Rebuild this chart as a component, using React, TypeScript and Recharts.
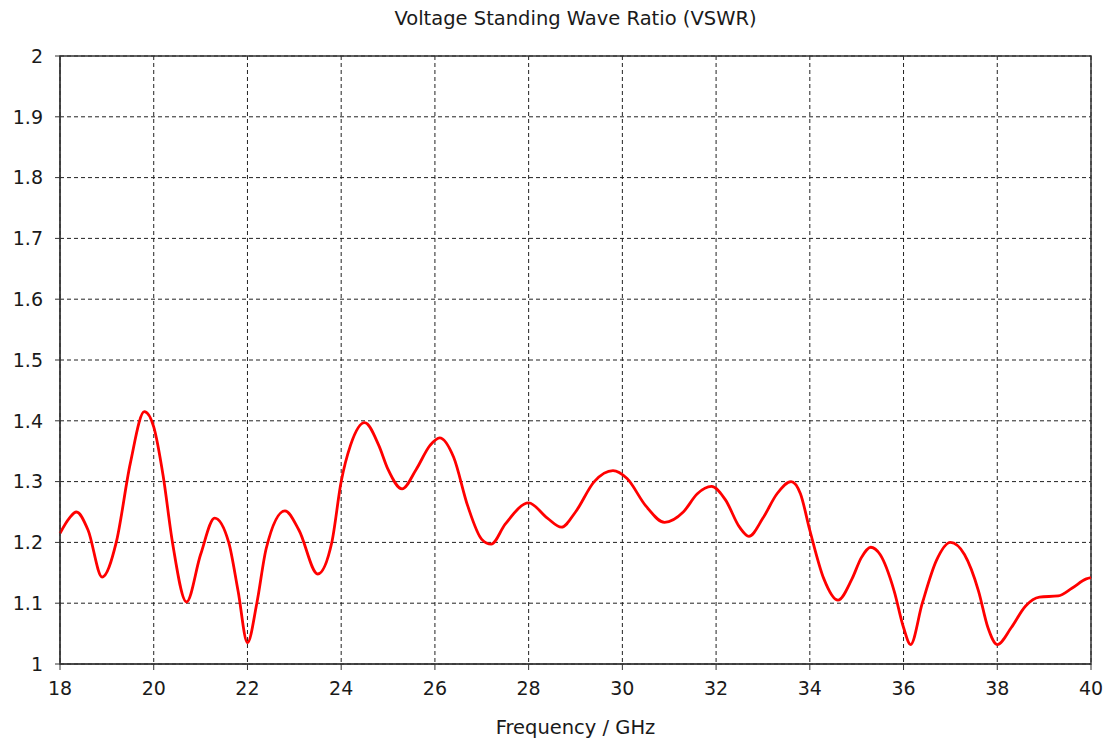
import React from 'react';
import { CartesianGrid, Line, LineChart, ReferenceArea, XAxis, YAxis } from 'recharts';

const freqGHz = [
  18.0, 18.2, 18.35, 18.6, 18.9, 19.2, 19.5, 19.8, 20.0, 20.2, 20.4, 20.7, 21.0, 21.3, 21.6, 21.8, 22.0,
  22.2, 22.4, 22.8, 23.1, 23.5, 23.8, 24.0, 24.2, 24.5, 24.8, 25.0, 25.3, 25.6, 25.9, 26.1, 26.4, 26.7,
  27.0, 27.2, 27.5, 28.0, 28.4, 28.7, 29.0, 29.4, 29.8, 30.1, 30.5, 30.9, 31.3, 31.6, 31.9, 32.2, 32.5,
  32.7, 33.0, 33.3, 33.6, 33.8, 34.0, 34.3, 34.6, 34.9, 35.1, 35.3, 35.5, 35.8, 36.0, 36.15, 36.4, 36.7,
  37.0, 37.3, 37.6, 37.8, 38.0, 38.3, 38.6, 38.9, 39.3, 39.6, 39.9, 40.0,
];

const vswr = [
  1.215, 1.24, 1.25, 1.22, 1.143, 1.2, 1.33, 1.415, 1.39, 1.31, 1.2, 1.102, 1.18, 1.24, 1.2, 1.12, 1.035,
  1.1, 1.19, 1.252, 1.22, 1.148, 1.2, 1.3, 1.36, 1.397, 1.36, 1.32, 1.288, 1.32, 1.36, 1.372, 1.34, 1.26,
  1.205, 1.197, 1.23, 1.265, 1.24, 1.225, 1.25, 1.3, 1.318, 1.305, 1.26, 1.233, 1.25, 1.28, 1.292, 1.27, 1.225,
  1.21, 1.24, 1.28, 1.3, 1.28, 1.22, 1.14, 1.105, 1.14, 1.175, 1.192, 1.18, 1.12, 1.06, 1.032, 1.1, 1.17,
  1.2, 1.18, 1.12, 1.06, 1.032, 1.06, 1.095, 1.11, 1.112, 1.125, 1.14, 1.142,
];

const xTicks = [18, 20, 22, 24, 26, 28, 30, 32, 34, 36, 38, 40];
const yTicks = [1, 1.1, 1.2, 1.3, 1.4, 1.5, 1.6, 1.7, 1.8, 1.9, 2];

const data = freqGHz.map((f, i) => ({ f, v: vswr[i] }));

const font = '"DejaVu Sans", Verdana, sans-serif';
const tickStyle = { fill: '#1a1a1a', fontSize: 19, fontFamily: font };

export default function App() {
  return (
    <div style={{ position: 'absolute', left: 0, top: 0, width: 1112, height: 747, background: '#fff' }}>
      <div
        style={{
          position: 'absolute',
          left: 60,
          width: 1031,
          top: 7,
          textAlign: 'center',
          fontFamily: font,
          fontSize: 19.5,
          color: '#1a1a1a',
        }}
      >
        Voltage Standing Wave Ratio (VSWR)
      </div>
      <LineChart width={1112} height={747} data={data} margin={{ top: 56, right: 21, bottom: 43, left: 10 }}>
        <CartesianGrid stroke="#222" strokeDasharray="4 3" horizontal vertical />
        <XAxis
          dataKey="f"
          type="number"
          domain={[18, 40]}
          ticks={xTicks}
          interval={0}
          height={40}
          tickSize={6}
          tickMargin={12}
          tick={tickStyle}
          stroke="#333"
          label={{
            value: 'Frequency / GHz',
            position: 'insideBottom',
            offset: -30,
            style: { ...tickStyle, fontSize: 19.5, textAnchor: 'middle' },
          }}
        />
        <YAxis
          type="number"
          domain={[1, 2]}
          ticks={yTicks}
          interval={0}
          width={50}
          tickSize={5}
          tickMargin={12}
          tick={tickStyle}
          stroke="#333"
        />
        <ReferenceArea x1={18} x2={40} y1={1} y2={2} fill="none" stroke="#333" strokeWidth={1.5} />
        <Line
          dataKey="v"
          type="monotone"
          stroke="#ff0000"
          strokeWidth={2.8}
          dot={false}
          isAnimationActive={false}
        />
      </LineChart>
    </div>
  );
}
